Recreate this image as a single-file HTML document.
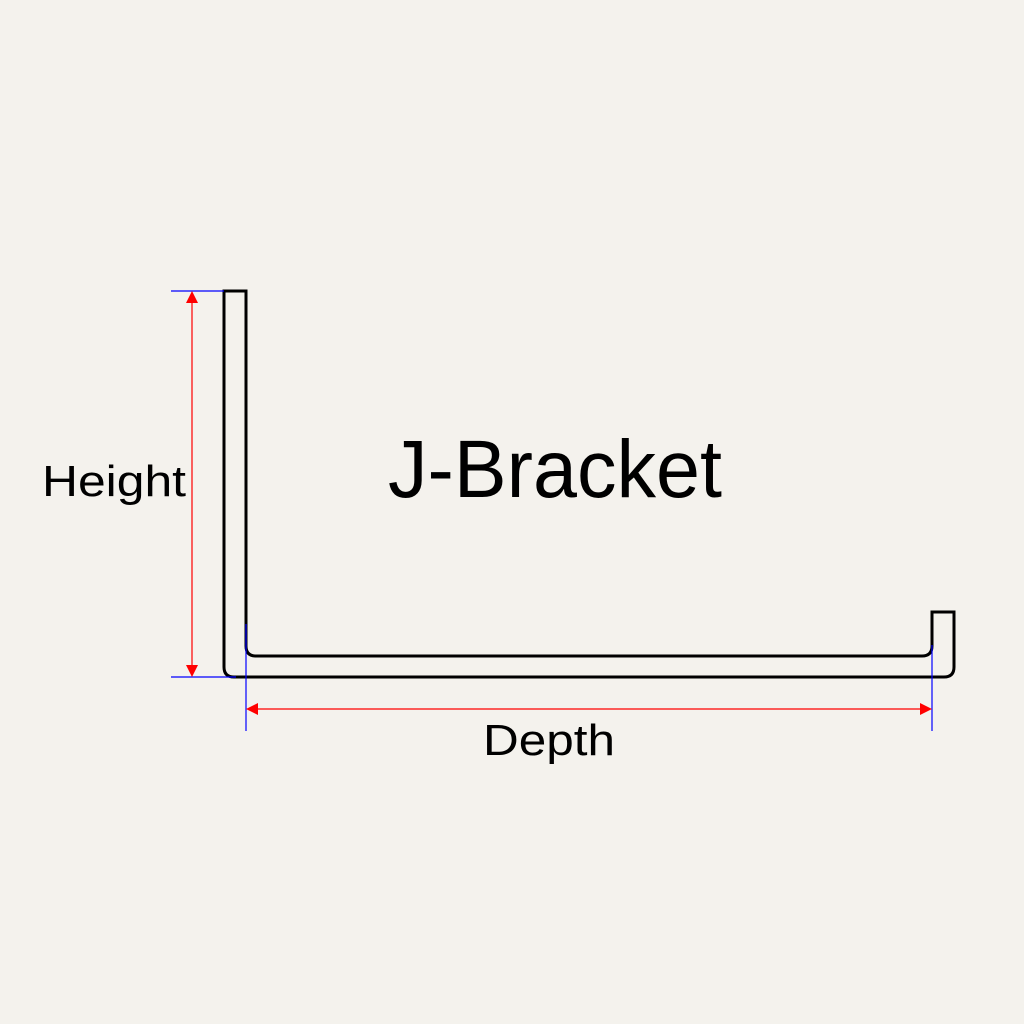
<!DOCTYPE html>
<html><head><style>html,body{margin:0;padding:0;background:#f4f2ed;}svg{display:block}</style></head>
<body>
<svg width="1024" height="1024" viewBox="0 0 1024 1024" xmlns="http://www.w3.org/2000/svg">
<rect width="1024" height="1024" fill="#f4f2ed"/>
<path d="M224,291 H246 V646 Q246,656 256,656 H922 Q932,656 932,646 V612 H954 V667 Q954,677 944,677 H234 Q224,677 224,667 Z" fill="none" stroke="#000" stroke-width="3" stroke-linejoin="miter"/>
<g stroke="#0000ff" stroke-width="1.2">
<line x1="171" y1="291" x2="224" y2="291"/>
<line x1="171" y1="677" x2="236" y2="677"/>
<line x1="246" y1="624" x2="246" y2="731"/>
<line x1="932" y1="645" x2="932" y2="731"/>
</g>
<g stroke="#ff0000" stroke-width="1.2">
<line x1="192" y1="300" x2="192" y2="668"/>
<line x1="255" y1="709" x2="923" y2="709"/>
</g>
<g fill="#ff0000">
<polygon points="192,291 186,303 198,303"/>
<polygon points="192,677 186,665 198,665"/>
<polygon points="246,709 258,703 258,715"/>
<polygon points="932,709 920,703 920,715"/>
</g>
<g font-family="Liberation Sans, sans-serif" fill="#000">
<text x="388" y="497" font-size="82" textLength="334" lengthAdjust="spacingAndGlyphs">J-Bracket</text>
<text x="42" y="496" font-size="44" textLength="144" lengthAdjust="spacingAndGlyphs">Height</text>
<text x="483" y="755" font-size="44" textLength="132" lengthAdjust="spacingAndGlyphs">Depth</text>
</g>
</svg>
</body></html>
